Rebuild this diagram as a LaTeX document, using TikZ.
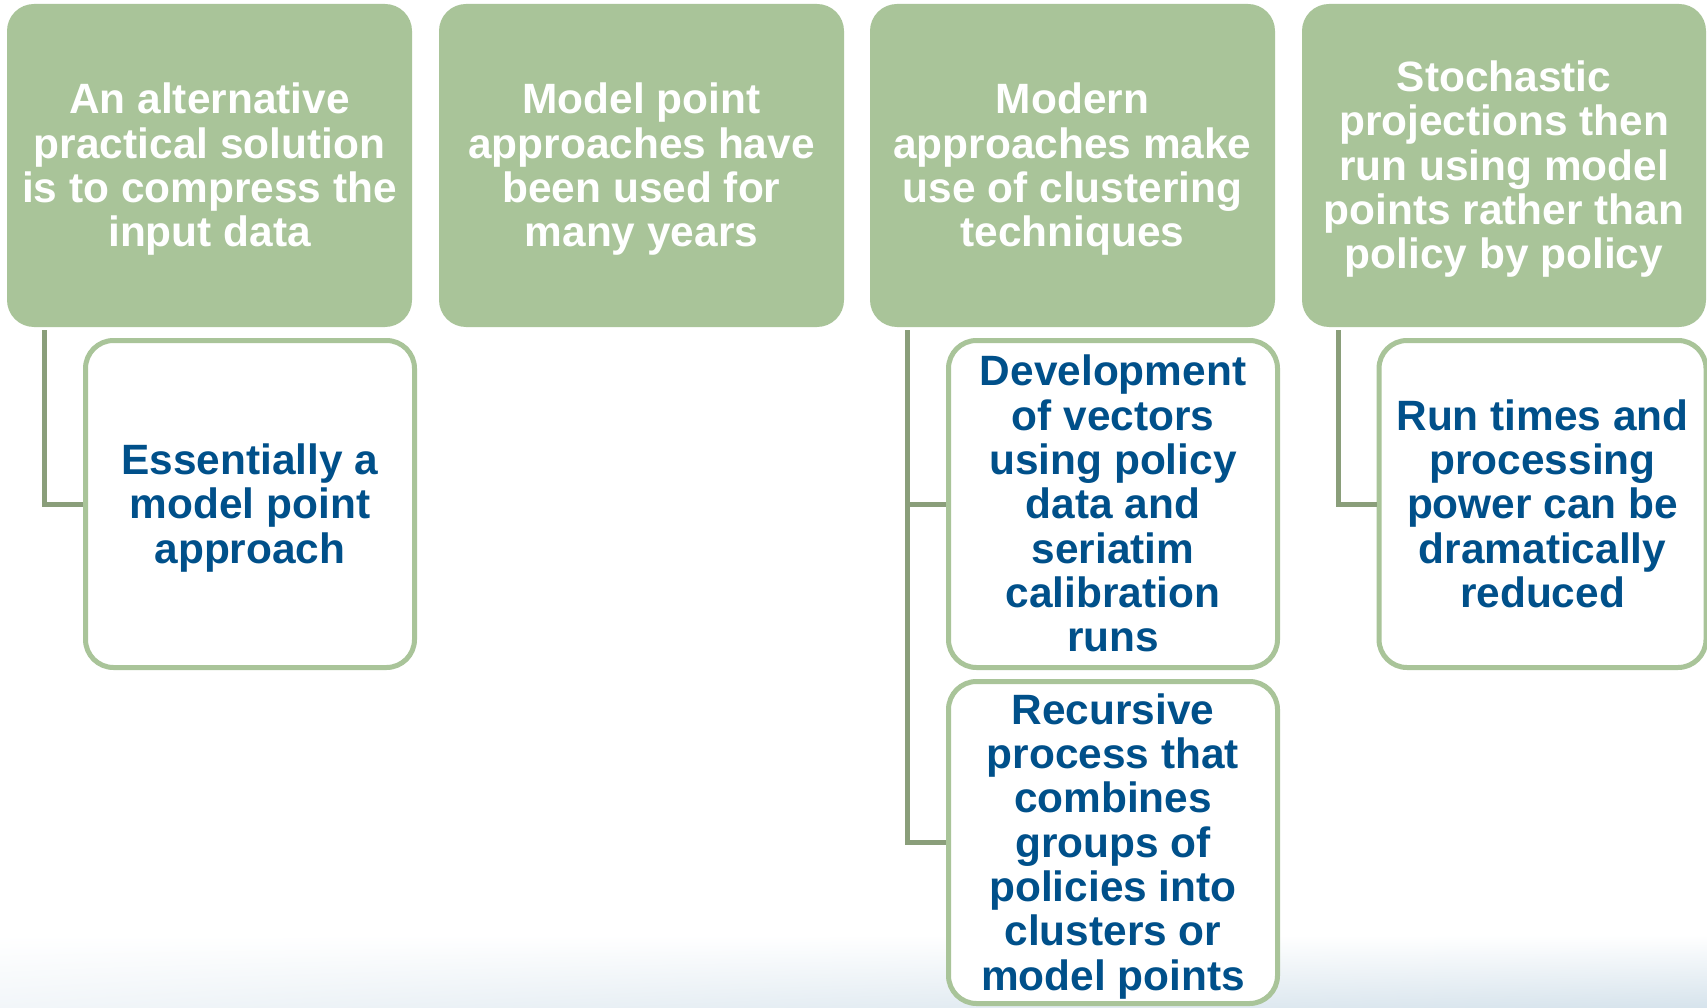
\documentclass[tikz,border=0pt]{standalone}
\usepackage{fontspec}
\usetikzlibrary{shadings}
\setmainfont{Liberation Sans}
\definecolor{boxgreen}{RGB}{169,196,153}
\definecolor{linegreen}{RGB}{138,158,122}
\definecolor{textblue}{RGB}{0,80,138}
\definecolor{bgblueL}{RGB}{242,246,249}
\definecolor{bgblueR}{RGB}{214,227,236}
\newcommand\boxtop{\rule{0pt}{38.5pt}}
\newcommand\boxbot{\rule[-9pt]{0pt}{9pt}}
\tikzset{
  topbox/.style={rectangle, rounded corners=27pt, fill=boxgreen, inner sep=0pt,
    minimum width=405pt, minimum height=323pt, align=center, text=white,
    font=\fontsize{42.4}{44.3}\selectfont\bfseries},
  subbox/.style={rectangle, rounded corners=28pt, draw=boxgreen, line width=5pt, fill=white,
    inner sep=0pt, minimum width=329pt, align=center, text=textblue,
    font=\fontsize{42.4}{44.3}\selectfont\bfseries},
  conn/.style={draw=linegreen, line width=5pt}
}
\begin{document}
\begin{tikzpicture}[x=1pt,y=-1pt]
\useasboundingbox (0,0) rectangle (1707,1008);
\fill[white] (0,0) rectangle (1707,1008);
\shade[upper left=white, upper right=white, lower left=bgblueL, lower right=bgblueR]
  (0,935) rectangle (1707,1008);

\node[topbox] (B1) at (209.5,165.5) {\boxtop An alternative\\practical solution\\is to compress the\\input data\boxbot};
\node[topbox] (B2) at (641.5,165.5) {\boxtop Model point\\approaches have\\been used for\\many years\boxbot};
\node[topbox] (B3) at (1072.5,165.5) {\boxtop Modern\\approaches make\\use of clustering\\techniques\boxbot};
\node[topbox, minimum width=404pt] (B4) at (1504,165.5) {\boxtop Stochastic\\projections then\\run using model\\points rather than\\policy by policy\boxbot};

\coordinate (t1) at ([xshift=38pt]B1.south west);
\coordinate (t3) at ([xshift=38pt]B3.south west);
\coordinate (t4) at ([xshift=37pt]B4.south west);

\node[subbox, minimum height=327pt] (C1) at (250,504) {\boxtop Essentially a\\model point\\approach\boxbot};
\node[subbox, minimum height=327pt] (C3a) at (1113,504) {\boxtop Development\\of vectors\\using policy\\data and\\seriatim\\calibration\\runs\boxbot};
\node[subbox, minimum height=322pt] (C3b) at (1113,842.5) {\boxtop Recursive\\process that\\combines\\groups of\\policies into\\clusters or\\model points\boxbot};
\node[subbox, minimum width=327pt, minimum height=327pt] (C4) at (1542.5,504) {\boxtop Run times and\\processing\\power can be\\dramatically\\reduced\boxbot};

\draw[conn] ([yshift=-3pt]t1) |- (C1.west);
\draw[conn] ([yshift=-3pt]t3) |- (C3b.west);
\draw[conn] (t3 |- C3a.west) -- (C3a.west);
\draw[conn] ([yshift=-3pt]t4) |- (C4.west);
\end{tikzpicture}
\end{document}
